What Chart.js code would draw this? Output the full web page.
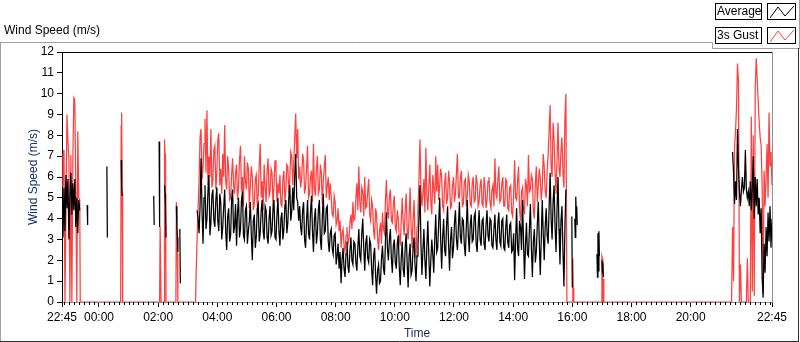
<!DOCTYPE html>
<html lang="en">
<head>
<meta charset="utf-8">
<script src="https://cdn.jsdelivr.net/npm/chart.js"></script>
<style>
    html, body { margin: 0; padding: 0; background: #fff; }
</style>
</head>
<body>
<canvas id="windChart" width="800" height="342"></canvas>
<script>
    // time axis is minutes after 22:45 (one full day)
    var startClock = 22 * 60 + 45;
    var majorMinutes = [0, 75, 195, 315, 435, 555, 675, 795, 915, 1035, 1155, 1275, 1440];

    // first half hour, 2 min samples
    var leadAvg = [4.6, 3.1, 5.5, 3.4, 6.1, 4.5, 5.9, 3.0, 5.0, 6.2, 4.2, 5.7, 4.4, 5.9, 3.6, 5.0, 3.3, 4.9, 4.4];
    var leadGust = [5.6, 7.0, 7.3, 0, 4.2, 9.0, 7.7, 6.9, 0, 7.05, 0, 6.8, 9.8, 9.7, 5.3, 0, 8.2, 5.0, 4.9];

    // main block 03:19 - 15:47, 2 min samples
    var denseStart = 274, denseStep = 2;
    var denseAvg = [
        4.4, 4.0, 3.3, 4.6, 6.9, 4.4, 2.8, 5.0, 5.6, 3.5, 4.0, 5.3, 6.1, 3.2, 3.8, 5.1, 5.4, 3.9, 3.6, 4.9,
        5.5, 3.9, 3.4, 5.2, 4.8, 3.0, 3.6, 4.6, 5.4, 3.4, 2.5, 4.1, 4.5, 2.9, 3.2, 4.9, 5.4, 3.3, 3.6, 4.7,
        2.7, 4.3, 5.0, 3.1, 3.5, 4.9, 5.3, 3.2, 3.0, 4.4, 4.6, 2.8, 3.4, 3.9, 4.8, 3.2, 2.0, 3.9, 4.2, 2.6,
        3.1, 4.5, 4.7, 2.9, 3.3, 4.4, 4.9, 3.4, 3.0, 4.6, 4.4, 3.1, 2.8, 4.0, 4.6, 3.2, 3.4, 4.5, 4.9, 3.1,
        3.0, 4.2, 5.0, 3.4, 2.7, 4.0, 4.3, 3.0, 3.5, 4.6, 4.9, 3.3, 3.8, 5.0, 5.6, 3.9, 4.4, 5.5, 4.4, 6.0,
        7.1, 5.0, 4.8, 3.9, 4.6, 3.6, 3.2, 4.4, 4.8, 3.0, 2.6, 3.9, 4.9, 3.3, 3.0, 4.3, 5.1, 3.4, 2.4, 4.0,
        4.5, 2.8, 3.3, 4.4, 4.9, 3.0, 2.5, 4.1, 5.2, 3.3, 3.4, 4.5, 4.6, 2.9, 2.4, 3.3, 3.5, 2.6, 2.3, 3.2,
        3.3, 1.8, 2.2, 2.8, 1.6, 2.4, 0.9, 2.0, 2.6, 1.6, 1.2, 2.3, 2.9, 1.7, 1.4, 2.5, 3.1, 2.0, 1.8, 2.9,
        2.8, 1.9, 1.5, 2.6, 3.5, 2.2, 2.0, 3.3, 4.0, 2.6, 1.5, 2.8, 3.2, 2.1, 1.9, 3.0, 2.8, 1.6, 0.8, 2.2,
        2.6, 1.3, 0.4, 1.5, 1.8, 0.9, 1.0, 2.1, 2.7, 1.6, 1.3, 2.9, 4.3, 2.6, 2.0, 3.0, 3.5, 2.1, 1.4, 2.7,
        3.0, 1.9, 1.6, 2.8, 3.2, 1.7, 0.8, 2.1, 2.9, 1.6, 1.2, 2.6, 3.3, 1.9, 0.7, 2.2, 2.8, 1.3, 1.5, 2.6,
        3.1, 1.8, 1.0, 2.2, 2.7, 4.0, 5.6, 2.8, 1.3, 2.5, 3.5, 2.0, 1.1, 2.7, 3.9, 2.2, 0.75, 2.0, 3.0, 2.3,
        1.4, 3.0, 4.2, 2.4, 2.6, 3.8, 5.0, 3.0, 1.6, 3.1, 4.0, 2.5, 2.2, 3.7, 4.6, 2.8, 1.5, 3.0, 3.6, 2.1,
        2.6, 3.8, 4.4, 3.0, 2.5, 3.6, 4.8, 3.1, 2.8, 4.0, 3.9, 2.7, 2.2, 3.6, 4.9, 3.2, 2.4, 3.7, 4.2, 2.9,
        3.0, 4.1, 4.3, 2.8, 2.4, 3.6, 4.4, 3.0, 2.7, 3.9, 4.0, 2.8, 2.5, 3.7, 4.4, 3.2, 2.9, 4.0, 3.9, 2.7,
        2.6, 3.5, 4.2, 3.0, 2.5, 3.8, 4.3, 2.9, 2.7, 3.9, 4.0, 2.6, 2.5, 3.6, 4.2, 2.9, 2.6, 3.7, 3.8, 2.4,
        2.5, 3.3, 1.05, 3.0, 4.5, 2.6, 2.2, 3.9, 3.6, 2.5, 4.9, 3.0, 1.1, 2.7, 3.8, 2.3, 2.2, 3.5, 4.7, 2.6,
        1.2, 2.9, 3.5, 1.9, 2.4, 3.7, 4.8, 2.9, 1.3, 3.0, 4.9, 3.3, 2.0, 3.6, 4.5, 3.2, 2.8, 4.6, 6.2, 4.0,
        3.0, 4.8, 5.6, 3.6, 2.4, 4.5, 6.0, 3.5, 1.8, 3.9, 4.6, 2.5, 0.75, 3.6, 5.4
    ];
    var denseGust = [
        3.0, 4.6, 5.8, 7.9, 8.3, 5.9, 6.4, 7.6, 8.8, 6.2, 9.2, 5.6, 7.0, 6.0, 8.3, 5.5, 5.8, 7.3, 7.5, 5.4,
        6.2, 7.8, 8.1, 5.6, 6.4, 5.2, 7.1, 6.0, 8.5, 5.8, 5.4, 7.0, 6.4, 4.9, 5.0, 6.1, 6.9, 5.6, 5.2, 6.2,
        6.6, 4.9, 5.5, 6.8, 7.5, 5.3, 6.0, 4.6, 7.0, 5.8, 5.4, 6.7, 6.4, 4.5, 5.6, 6.5, 6.0, 4.4, 4.7, 5.9,
        6.1, 4.6, 5.2, 6.5, 7.6, 5.0, 5.8, 4.4, 6.6, 5.5, 4.8, 6.3, 6.9, 5.1, 5.3, 6.4, 6.2, 4.6, 5.6, 6.8,
        6.3, 4.8, 5.7, 5.2, 6.1, 4.7, 4.6, 5.9, 6.3, 4.8, 5.4, 6.6, 6.5, 5.2, 5.9, 7.2, 7.0, 5.6, 6.6, 7.9,
        9.05, 6.9, 8.3, 5.9, 6.5, 5.5, 5.9, 7.1, 6.8, 5.2, 5.5, 6.4, 7.5, 5.0, 5.2, 6.0, 6.3, 4.8, 7.6, 5.4,
        5.1, 6.4, 7.0, 5.2, 5.4, 6.6, 6.2, 4.7, 5.8, 6.5, 7.05, 5.0, 5.6, 6.0, 4.9, 5.7, 5.0, 4.2, 4.1, 5.1,
        4.8, 3.7, 3.9, 4.5, 3.4, 3.9, 2.6, 3.3, 3.5, 2.7, 2.4, 3.2, 3.6, 2.8, 3.0, 3.8, 4.2, 3.5, 4.8, 3.9,
        4.0, 5.0, 5.7, 4.4, 6.5, 4.8, 4.3, 5.5, 5.3, 4.1, 6.0, 4.5, 4.6, 5.3, 5.9, 4.2, 3.9, 4.9, 4.6, 3.4,
        3.0, 4.5, 4.2, 3.1, 2.5, 3.4, 3.8, 2.8, 4.3, 3.5, 3.3, 4.9, 5.85, 4.3, 4.0, 5.1, 5.4, 3.9, 3.8, 4.7,
        5.1, 3.6, 3.4, 4.4, 4.0, 3.1, 2.7, 3.9, 5.0, 3.8, 3.2, 4.4, 5.2, 3.5, 3.0, 4.1, 5.5, 3.6, 2.6, 4.0,
        4.9, 3.0, 2.1, 3.6, 4.5, 5.9, 7.8, 5.4, 4.6, 5.2, 5.9, 4.3, 7.4, 5.1, 4.4, 5.6, 6.6, 4.8, 4.2, 6.1,
        5.5, 4.7, 7.0, 5.3, 6.6, 4.9, 5.6, 6.4, 6.0, 4.6, 4.4, 5.7, 6.2, 4.7, 5.0, 6.3, 5.8, 4.5, 4.6, 5.6,
        6.0, 4.8, 5.2, 6.2, 7.1, 5.0, 5.0, 6.0, 6.3, 4.6, 4.7, 5.8, 5.9, 4.6, 5.1, 6.1, 5.8, 4.7, 4.6, 5.7,
        6.0, 4.8, 4.9, 6.1, 5.7, 4.6, 4.8, 5.6, 5.9, 4.7, 4.6, 6.0, 5.5, 4.5, 4.9, 5.8, 6.0, 4.8, 4.5, 5.4,
        5.6, 4.6, 6.9, 5.2, 5.0, 5.9, 6.5, 4.8, 4.9, 5.7, 6.0, 4.6, 4.6, 5.9, 5.8, 4.5, 4.4, 5.5, 5.6, 4.3,
        4.1, 5.2, 6.8, 5.0, 4.9, 5.8, 6.5, 4.4, 3.9, 5.3, 5.5, 4.5, 4.2, 5.9, 5.6, 4.6, 7.05, 5.3, 5.4, 6.1,
        5.9, 4.4, 4.0, 5.7, 6.5, 4.8, 5.6, 6.4, 5.9, 4.9, 5.5, 7.1, 6.5, 5.3, 5.0, 6.3, 7.05, 8.3, 9.45, 6.5,
        6.0, 8.6, 7.8, 6.2, 5.2, 6.9, 8.6, 6.4, 6.0, 7.3, 7.9, 6.2, 5.5, 8.8, 10.0
    ];

    // last 80 minutes, 2 min samples
    var tailStart = 1360, tailStep = 2;
    var tailAvg = [7.2, 6.2, 4.7, 5.8, 4.9, 8.3, 6.4, 5.3, 4.6, 5.4, 6.0, 5.3, 5.5, 7.3, 5.4, 5.0, 5.3, 4.6, 5.8, 4.4,
        5.5, 7.0, 4.0, 6.0, 4.6, 5.9, 4.2, 5.0, 3.3, 4.5, 1.2, 0.2, 2.8, 1.4, 3.6, 2.2, 4.3, 2.9, 4.6, 2.6, 4.0];
    var tailGust = [3.6, 1.0, 7.4, 8.2, 9.3, 11.45, 10.6, 0, 1.8, 0, 0, 0, 0, 0, 0, 2.1, 0, 0, 0, 8.9,
        0.5, 8.0, 0.3, 10.3, 11.7, 10.7, 9.6, 8.6, 7.9, 7.5, 5.6, 0.4, 6.3, 4.6, 6.0, 7.6, 5.0, 9.1, 6.5, 7.2, 5.6];

    // short readings in between (null = no average recorded)
    var burstMinutes = [37, 51, 52, 53, 91, 92, 93, 120, 121, 122, 123, 186, 187, 188, 197, 198, 199,
        208, 209, 210, 211, 212, 232, 233, 234, 235, 236, 239, 240, 241, 1023, 1034, 1035, 1036,
        1040, 1041, 1042, 1043, 1044, 1045, 1046, 1085, 1086, 1087, 1088, 1089, 1090, 1091, 1095, 1096, 1097, 1098, 1099];
    var burstAvg = [null, 4.65, 3.7, null, 6.5, 3.1, null, 6.8, 5.6, 5.1, null, 5.1, 3.7, null, 7.7, 3.6, null,
        5.6, 5.2, 4.6, 3.1, null, 4.6, 3.6, 3.1, 2.4, null, 3.5, 0.9, null, null, 4.1, 0.7, null,
        4.0, 3.1, 5.05, 4.2, 4.6, 3.7, null, 2.3, 1.2, 3.3, 1.5, 3.4, 2.2, null, 2.0, 1.4, 1.9, 1.2, null];

    var spikeMinutes = [37, 119, 120, 121, 122, 123, 198, 199, 200, 201, 207, 208, 209, 210, 211,
        231, 232, 233, 234, 235, 271, 272, 1024, 1035, 1036, 1037, 1038, 1094, 1095, 1096, 1097, 1098, 1099, 1358];
    var spikeGust = [0, 0, 8.45, 9.1, 5.2, 0, 0, 3.6, 3.6, 0, 0, 7.8, 7.1, 6.0, 0,
        0, 4.8, 4.8, 2.3, 0, 0, 1.4, 0, 0, 2.1, 0.7, 0, 0, 2.2, 2.1, 0, 1.1, 0, 0];

    function toPoints(minutes, values) {
        return minutes.map(function (m, i) { return { x: m, y: values[i] }; });
    }
    function stepped(start, step, values) {
        return values.map(function (_, i) { return start + i * step; });
    }
    function byTime(a, b) { return a.x - b.x; }

    var avgPoints = [].concat(
        toPoints(stepped(0, 2, leadAvg), leadAvg),
        toPoints(burstMinutes, burstAvg),
        toPoints(stepped(denseStart, denseStep, denseAvg), denseAvg),
        toPoints(stepped(tailStart, tailStep, tailAvg), tailAvg)
    ).sort(byTime);
    var gustPoints = [].concat(
        toPoints(stepped(0, 2, leadGust), leadGust),
        toPoints(spikeMinutes, spikeGust),
        toPoints(stepped(denseStart, denseStep, denseGust), denseGust),
        toPoints(stepped(tailStart, tailStep, tailGust), tailGust)
    ).sort(byTime);

    var uiFont = '"Liberation Sans", Arial, sans-serif';
    var gustColor = 'rgb(255, 64, 64)';

    function clockLabel(v) {
        var m = (startClock + v) % 1440;
        var h = Math.floor(m / 60), mm = m % 60;
        return (h < 10 ? '0' : '') + h + ':' + (mm < 10 ? '0' : '') + mm;
    }

    function drawZigzag(ctx, x, y, color) {
        ctx.strokeStyle = color;
        ctx.lineWidth = 1;
        ctx.beginPath();
        ctx.moveTo(x + 3, y + 15);
        ctx.lineTo(x + 11, y + 4);
        ctx.lineTo(x + 18, y + 13);
        ctx.lineTo(x + 27, y + 3);
        ctx.stroke();
    }

    var framePlugin = {
        id: 'frame',
        beforeDraw: function (chart) {
            var c = chart.ctx;
            c.save();
            c.fillStyle = '#fff';
            c.fillRect(0, 0, chart.width, chart.height);
            c.restore();
        },
        afterDraw: function (chart) {
            var c = chart.ctx, a = chart.chartArea, xs = chart.scales.x;
            c.save();
            // minor ticks every 10 min
            c.strokeStyle = '#000';
            c.lineWidth = 1;
            c.beginPath();
            for (var t = 5; t < 1440; t += 10) {
                if (majorMinutes.indexOf(t) >= 0) continue;
                var px = Math.round(xs.getPixelForValue(t)) + 0.5;
                c.moveTo(px, a.bottom);
                c.lineTo(px, a.bottom + 3);
            }
            c.stroke();
            // plot frame top / right
            c.beginPath();
            c.moveTo(a.left, a.top + 0.5);
            c.lineTo(a.right, a.top + 0.5);
            c.stroke();
            c.strokeStyle = '#909090';
            c.beginPath();
            c.moveTo(a.right + 0.5, a.top);
            c.lineTo(a.right + 0.5, a.bottom + 1);
            c.stroke();

            // outer panel
            c.strokeStyle = '#a0a0a0';
            c.beginPath();
            c.moveTo(0, 42.5); c.lineTo(712.5, 42.5); c.lineTo(712.5, 48.5); c.lineTo(800, 48.5);
            c.moveTo(0.5, 42); c.lineTo(0.5, 342);
            c.moveTo(799.5, 0); c.lineTo(799.5, 48);
            c.stroke();
            c.strokeStyle = '#303030';
            c.beginPath();
            c.moveTo(0, 341.5); c.lineTo(799, 341.5);
            c.moveTo(798.5, 48); c.lineTo(798.5, 342);
            c.stroke();

            // title
            c.fillStyle = '#000';
            c.font = '12px ' + uiFont;
            c.textBaseline = 'middle';
            c.textAlign = 'left';
            c.fillText('Wind Speed (m/s)', 4, 31);

            // legend
            var rows = [{ text: 'Average', color: '#000', y: 3 }, { text: '3s Gust', color: gustColor, y: 27 }];
            rows.forEach(function (r) {
                c.fillStyle = '#fff';
                c.fillRect(715, r.y, 47, 17);
                c.fillRect(767, r.y, 29, 17);
                c.strokeStyle = '#000';
                c.strokeRect(715.5, r.y + 0.5, 46, 16);
                c.strokeRect(767.5, r.y + 0.5, 28, 16);
                c.fillStyle = '#000';
                c.fillText(r.text, 717, r.y + 9);
                drawZigzag(c, 767, r.y, r.color);
            });
            c.restore();
        }
    };

    var ctx = document.getElementById('windChart').getContext('2d');
    var chart = new Chart(ctx, {
        type: 'line',
        data: {
            datasets: [{
                label: 'Average',
                data: avgPoints,
                borderColor: '#000',
                borderWidth: 1.25,
                pointRadius: 0,
                spanGaps: false
            }, {
                label: '3s Gust',
                data: gustPoints,
                borderColor: gustColor,
                borderWidth: 1.25,
                pointRadius: 0
            }]
        },
        options: {
            responsive: false,
            animation: false,
            devicePixelRatio: 1,
            layout: { padding: { left: 0, top: 52, right: 28, bottom: 0 } },
            elements: { line: { tension: 0 } },
            plugins: {
                legend: { display: false },
                tooltip: { enabled: false },
                title: { display: false }
            },
            scales: {
                x: {
                    type: 'linear',
                    min: 0,
                    max: 1440,
                    afterBuildTicks: function (scale) {
                        scale.ticks = majorMinutes.map(function (v) { return { value: v }; });
                    },
                    afterFit: function (scale) { scale.height = 40; },
                    ticks: {
                        autoSkip: false,
                        maxRotation: 0,
                        padding: 3,
                        color: '#000',
                        font: { family: uiFont, size: 12 },
                        callback: function (v) { return clockLabel(v); }
                    },
                    grid: { drawOnChartArea: false, tickLength: 5, tickColor: '#000' },
                    border: { display: true, color: '#909090', width: 1 },
                    title: {
                        display: true,
                        text: 'Time',
                        color: '#1c2b5a',
                        font: { family: uiFont, size: 12 },
                        padding: { top: 0, bottom: 1 }
                    }
                },
                y: {
                    min: 0,
                    max: 12,
                    afterFit: function (scale) { scale.width = 62; },
                    ticks: {
                        stepSize: 1,
                        padding: 3,
                        color: '#000',
                        font: { family: uiFont, size: 12 }
                    },
                    grid: { drawOnChartArea: false, tickLength: 5, tickColor: '#000' },
                    border: { display: true, color: '#000', width: 1 },
                    title: {
                        display: true,
                        text: 'Wind Speed (m/s)',
                        color: '#14306e',
                        font: { family: uiFont, size: 12 },
                        padding: { top: 26, bottom: 0 }
                    }
                }
            }
        },
        plugins: [framePlugin]
    });
</script>
</body>
</html>
